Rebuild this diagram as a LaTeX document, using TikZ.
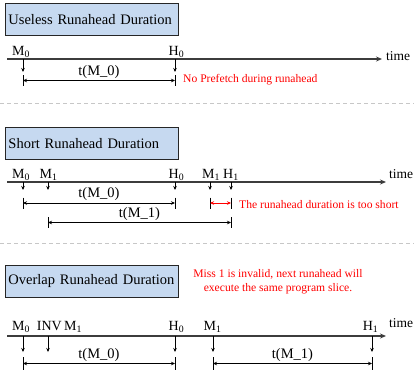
\documentclass[tikz,border=0pt]{standalone}
\usepackage{fontspec}
\setmainfont{Liberation Serif}
\usetikzlibrary{arrows.meta, positioning}
\definecolor{boxblue}{RGB}{198,217,240}
\definecolor{axisgray}{RGB}{60,60,60}
\tikzset{
  title/.style={rectangle, draw=black!85, line width=0.9pt, fill=boxblue,
                anchor=north west, text width=167pt, align=left,
                minimum height=32pt, inner xsep=3pt, inner ysep=3pt,
                font=\fontsize{14.5}{17}\selectfont},
  evt/.style={anchor=base, inner sep=0pt, font=\fontsize{14}{16}\selectfont},
  timelbl/.style={anchor=west, inner sep=0pt, font=\fontsize{13.5}{16}\selectfont},
  axis/.style={-{Stealth[length=6pt,width=5pt]}, line width=1.1pt, draw=axisgray},
  drop/.style={-{Stealth[length=4pt,width=3.5pt]}, line width=0.7pt},
  tk/.style={minimum height=11pt, minimum width=0pt, inner sep=0pt, outer sep=0pt},
  tkline/.style={line width=0.9pt},
  biarr/.style={{Stealth[length=4pt,width=3.5pt]}-{Stealth[length=4pt,width=3.5pt]},
                line width=0.7pt},
  spanlbl/.style={above, inner sep=2pt, font=\fontsize{14.5}{17}\selectfont},
  note/.style={text=red, inner sep=0pt, font=\fontsize{11.6}{14}\selectfont},
  sep/.style={draw=black!22, dash pattern=on 4pt off 3pt, line width=0.8pt},
}
\begin{document}
\begin{tikzpicture}[x=1pt, y=-1pt]
  \useasboundingbox (0,0) rectangle (414,376);

  % --- useless runahead
  \node[title] (ttl1) at (5,3) {Useless Runahead Duration};
  \coordinate (o1) at (7,59);
  \coordinate (x1) at (382,59);
  \draw[axis] (o1) -- (x1);
  \node[timelbl, right=4pt of x1, yshift=3pt] (time1) {time};
  \node[evt] (m0a) at (21,55) {M\textsubscript{0}};
  \node[evt] (h0a) at (176.5,55) {H\textsubscript{0}};
  \foreach \x/\n in {23/m0, 175/h0} {
    \coordinate (p1\n) at (\x,59);
    \coordinate (q1\n) at (\x,72);
    \node[tk] (k1\n) at (\x,80.5) {};
    \draw[drop] (p1\n) -- (q1\n);
    \draw[tkline] (k1\n.north) -- (k1\n.south);
  }
  \draw[biarr] (k1m0) -- node[spanlbl] {t(M\_0)} (k1h0);
  \node[note, anchor=west] (nt1) at (183,80) {No Prefetch during runahead};
  \coordinate (l1) at (0,103);
  \coordinate (r1) at (414,103);
  \draw[sep] (l1) -- (r1);

  % --- short runahead
  \node[title] (ttl2) at (5,127) {Short Runahead Duration};
  \coordinate (o2) at (7,182);
  \coordinate (x2) at (386,182);
  \draw[axis] (o2) -- (x2);
  \node[timelbl, right=3pt of x2, yshift=8pt] (time2) {time};
  \node[evt] (m0b) at (21,178) {M\textsubscript{0}};
  \node[evt] (m1b) at (48.5,178) {M\textsubscript{1}};
  \node[evt] (h0b) at (176.5,178) {H\textsubscript{0}};
  \node[evt] (m1c) at (211,178) {M\textsubscript{1}};
  \node[evt] (h1b) at (231,178) {H\textsubscript{1}};
  \foreach \x/\n in {23/a, 48/b, 175/c, 210/d, 231/e} {
    \coordinate (p2\n) at (\x,182);
    \coordinate (q2\n) at (\x,190);
    \draw[drop] (p2\n) -- (q2\n);
  }
  \foreach \x/\n in {23/a, 175/c, 210/d, 231/e} {
    \node[tk] (k2\n) at (\x,203) {};
    \draw[tkline] (k2\n.north) -- (k2\n.south);
  }
  \foreach \x/\n in {48/b, 231/e} {
    \node[tk] (kk2\n) at (\x,222.5) {};
    \draw[tkline] (kk2\n.north) -- (kk2\n.south);
  }
  \draw[biarr] (k2a) -- node[spanlbl] {t(M\_0)} (k2c);
  \draw[biarr, red] (k2d) -- (k2e);
  \draw[biarr] (kk2b) -- node[spanlbl] {t(M\_1)} (kk2e);
  \node[note, anchor=west] (nt2) at (239,205) {The runahead duration is too short};
  \coordinate (l2) at (0,243);
  \coordinate (r2) at (414,243);
  \draw[sep] (l2) -- (r2);

  % --- overlap runahead
  \node[title] (ttl3) at (5,265) {Overlap Runahead Duration};
  \node[note, align=center] (nt3) at (278,282)
    {Miss 1 is invalid, next runahead will\\execute the same program slice.};
  \coordinate (o3) at (7,336);
  \coordinate (x3) at (386,336);
  \draw[axis] (o3) -- (x3);
  \node[timelbl, right=3pt of x3, yshift=13pt] (time3) {time};
  \node[evt] (m0c) at (21,330) {M\textsubscript{0}};
  \node[evt, anchor=base east] (inv) at (62,330) {INV};
  \node[evt, anchor=base west] (m1d) at (64,330) {M\textsubscript{1}};
  \node[evt] (h0c) at (176.5,330) {H\textsubscript{0}};
  \node[evt] (m1e) at (212.5,330) {M\textsubscript{1}};
  \node[evt] (h1c) at (370.5,330) {H\textsubscript{1}};
  \foreach \x/\n in {23/a, 48/b, 175/c, 213/d, 372/e} {
    \coordinate (p3\n) at (\x,336);
    \coordinate (q3\n) at (\x,352);
    \draw[drop] (p3\n) -- (q3\n);
  }
  \foreach \x/\n in {23/a, 175/c, 213/d, 372/e} {
    \node[tk, minimum height=13pt] (k3\n) at (\x,363.5) {};
    \draw[tkline] (k3\n.north) -- (k3\n.south);
  }
  \draw[biarr] (k3a) -- node[spanlbl] {t(M\_0)} (k3c);
  \draw[biarr] (k3d) -- node[spanlbl] {t(M\_1)} (k3e);
\end{tikzpicture}
\end{document}
